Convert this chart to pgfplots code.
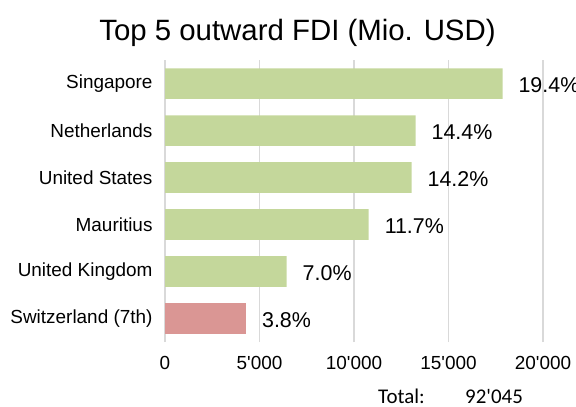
\documentclass[border=0pt]{standalone}
\usepackage{fontspec}
\setmainfont{Liberation Sans}
\newfontfamily\arial{Liberation Sans}
\newfontfamily\calibri{Carlito}
\usepackage{pgfplots}
\pgfplotsset{compat=1.18}
\definecolor{barg}{RGB}{196,215,155}
\definecolor{barr}{RGB}{218,150,148}
\definecolor{gridc}{RGB}{217,217,217}
\begin{document}
\begin{tikzpicture}
\path[use as bounding box] (0,0) rectangle (576bp,407bp);
\begin{axis}[at={(165bp,65bp)}, anchor=south west, scale only axis,
 width=378bp, height=282bp,
 xmin=0, xmax=20000, ymin=-0.5, ymax=5.5,
 xbar, bar width=30.5bp, bar shift=0pt,
 scaled x ticks=false,
 axis line style={draw=none}, major tick length=0,
 xmajorgrids, grid style={gridc, line width=1.5bp},
 xtick={0,5000,10000,15000,20000},
 xticklabels={0,5'000,10'000,15'000,20'000},
 ytick={0,1,2,3,4,5},
 yticklabels={Switzerland (7th),United Kingdom,Mauritius,United States,Netherlands,Singapore},
 tick label style={font=\arial\fontsize{19}{20}\selectfont},
 yticklabel style={xshift=-9bp},
 xticklabel style={yshift=-11bp},
 nodes near coords, point meta=explicit symbolic,
 every node near coord/.style={font=\arial\fontsize{21.5}{22}\selectfont, anchor=west, xshift=12.5bp, yshift=-1.5bp, text=black},
 clip=false]
\addplot[fill=barg, draw=none] coordinates {
 (17860,5) [19.4\%]
 (13260,4) [14.4\%]
 (13050,3) [14.2\%]
 (10780,2) [11.7\%]
 (6440,1) [7.0\%]
};
\addplot[fill=barr, draw=none] coordinates {
 (4290,0) [3.8\%]
};
\end{axis}
\node[anchor=base, font=\arial\fontsize{29.5}{30}\selectfont] at (297.5bp,366.5bp) {Top 5 outward FDI (Mio. USD)};
\node[anchor=base west, inner sep=0, font=\calibri\fontsize{21}{22}\selectfont] at (378bp,4bp) {Total:};
\node[anchor=base west, inner sep=0, font=\calibri\fontsize{21}{22}\selectfont] at (465bp,4bp) {92'045};
\end{tikzpicture}
\end{document}
